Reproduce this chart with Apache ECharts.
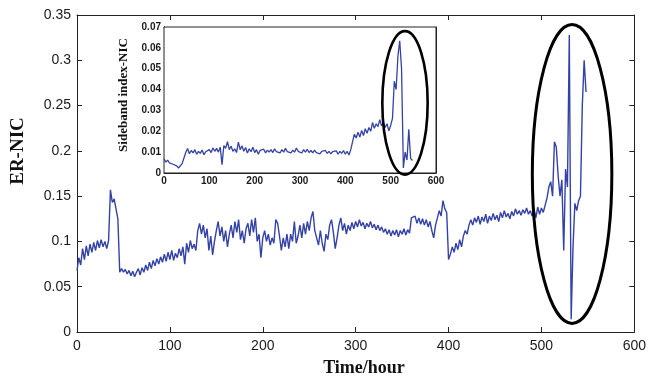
<!DOCTYPE html>
<html><head><meta charset="utf-8">
<script src="https://cdn.jsdelivr.net/npm/echarts@6/dist/echarts.min.js"></script>
<style>html,body{margin:0;padding:0;background:#fff}#c{width:649px;height:378px}</style>
</head><body><div id="c"></div>
<script>
// Main series: ER-NIC, sampled every 2 hours from hour 0
const mainStartHour = 0, mainStepHours = 2;
const mainValues = [
0.068,0.082,0.074,0.092,0.080,0.095,0.084,0.097,0.088,0.099,0.090,0.101,0.093,0.102,0.094,0.100,0.092,0.101,
0.157,0.143,0.147,0.136,0.125,0.066,
0.070,0.066,0.069,0.064,0.068,0.062,0.067,0.061,0.066,0.070,0.063,0.071,
0.066,0.074,0.068,0.077,0.070,0.079,0.073,0.081,0.075,0.083,0.077,0.086,0.078,0.088,0.080,0.090,0.079,0.087,0.082,0.092,0.084,0.094,0.075,0.098,0.088,0.101,0.092,0.097,0.090,
0.112,0.120,0.108,0.118,0.104,0.114,0.090,0.106,0.085,0.100,
0.112,0.122,0.106,0.116,0.100,0.112,0.094,0.108,0.118,0.104,0.122,0.110,0.124,0.102,0.112,0.098,0.114,0.120,0.106,0.124,0.110,0.126,0.100,0.108,0.082,0.104,
0.112,0.100,0.108,0.096,0.104,0.098,0.124,0.120,0.106,0.090,0.104,0.094,0.108,0.092,0.108,0.100,0.122,0.098,0.106,0.118,0.104,0.120,0.108,0.122,0.112,0.126,0.133,0.112,0.104,0.096,0.112,0.098,0.089,0.108,0.102,
0.118,0.124,0.110,0.092,0.104,0.118,0.126,0.112,0.120,0.108,0.118,0.112,0.121,0.114,0.122,0.116,0.124,0.117,0.121,0.114,0.120,0.116,0.122,0.115,0.119,0.113,0.118,0.112,0.116,0.110,0.114,0.108,0.113,0.106,0.112,0.107,0.113,0.105,0.112,0.108,0.114,0.107,0.113,0.109,0.126,
0.124,0.128,0.120,0.126,0.119,0.125,0.118,0.124,0.116,0.122,0.112,0.104,0.118,0.126,0.134,0.128,0.145,0.136,0.132,0.080,
0.086,0.094,0.088,0.098,0.091,0.102,0.094,0.106,0.112,0.108,0.118,0.124,
0.118,0.126,0.121,0.128,0.119,0.127,0.122,0.130,0.120,0.128,0.123,0.131,0.124,0.129,0.122,0.132,0.126,0.134,0.127,0.131,0.125,0.133,0.128,0.136,0.130,0.134,0.129,0.135,0.131,0.137,0.130,0.134,0.128,0.136,0.126,0.138,0.130,0.137,0.132,0.140,
0.148,0.160,0.166,0.150,0.210,0.204,0.172,0.150,0.168,0.090,0.180,0.160,0.328,0.014,0.094,0.142,0.134,0.145,0.150,0.250,0.300,0.265
];
// Inset series: Sideband index-NIC, sampled every 4 hours from hour 0
const insetStartHour = 0, insetStepHours = 4;
const insetValues = [
0.0068,0.0052,0.0062,0.0048,0.0056,0.0042,0.0050,0.0034,0.0024,0.0018,0.0045,0.0072,0.0098,
0.0118,0.0092,0.0108,0.0096,0.0112,0.0090,0.0104,0.0094,0.0110,0.0088,0.0102,0.0096,0.0112,0.0098,0.0120,0.0104,0.0118,0.0100,0.0124,
0.0040,0.0132,0.0118,0.0150,0.0112,0.0128,0.0104,0.0116,0.0098,0.0148,0.0112,0.0130,0.0104,0.0122,0.0096,0.0116,0.0102,0.0124,0.0098,
0.0112,0.0090,0.0108,0.0100,0.0114,0.0096,0.0110,0.0100,0.0112,0.0098,0.0116,0.0102,0.0108,0.0096,0.0112,0.0100,0.0118,0.0102,0.0106,0.0096,0.0110,0.0100,0.0120,0.0104,0.0110,
0.0096,0.0112,0.0100,0.0114,0.0098,0.0108,0.0096,0.0110,0.0098,0.0106,0.0092,0.0104,0.0096,0.0108,0.0094,0.0104,0.0092,0.0102,0.0094,0.0106,0.0090,0.0104,0.0094,0.0108,0.0090,0.0104,0.0086,0.0112,
0.0150,0.0186,0.0168,0.0196,0.0172,0.0204,0.0180,0.0212,0.0190,0.0218,0.0200,0.0242,0.0214,0.0236,0.0222,0.0256,0.0226,0.0242,0.0218,0.0236,0.0202,0.0228,0.0262,
0.0440,0.0400,0.0560,0.0634,0.0500,0.0024,0.0100,0.0062,0.0210,0.0070,0.0060
];
// Axis ticks
const mainXTicks = [0,100,200,300,400,500,600];
const mainYTicks = [0,0.05,0.1,0.15,0.2,0.25,0.3,0.35];
const insetXTicks = [0,100,200,300,400,500,600];
const insetYTicks = [0,0.01,0.02,0.03,0.04,0.05,0.06,0.07];
// Annotation ellipses in data units: [centerX, centerY, halfWidth, halfHeight]
const mainEllipse = [533, 0.1745, 42.8, 0.165];
const insetEllipse = [531.6, 0.0336, 50, 0.0344];

const mainData = mainValues.map((v,i)=>[mainStartHour + i*mainStepHours, v]);
const insetData = insetValues.map((v,i)=>[insetStartHour + i*insetStepHours, v]);

const lineColor = '#3342a6';
const axisCol = '#222';
function xAx(grid, ticks, pos, showLabel, fs, bold){
  return {type:'value', gridIndex:grid, position:pos, min:ticks[0], max:ticks[ticks.length-1],
    interval:ticks[1]-ticks[0],
    axisLine:{show:true, onZero:false, lineStyle:{color:axisCol, width:1}},
    axisTick:{show:true, inside:true, length:grid===0?5:4, lineStyle:{color:axisCol}},
    axisLabel:{show:showLabel, fontSize:fs, fontFamily:'Liberation Sans', fontWeight:bold?'bold':'normal', color:'#1a1a1a', margin:grid===0?7:3},
    splitLine:{show:false}};
}
function yAx(grid, ticks, pos, showLabel, fs, bold){
  return {type:'value', gridIndex:grid, position:pos, min:ticks[0], max:ticks[ticks.length-1],
    interval:Math.round((ticks[1]-ticks[0])*1e6)/1e6,
    axisLine:{show:true, onZero:false, lineStyle:{color:axisCol, width:1}},
    axisTick:{show:true, inside:true, length:grid===0?5:4, lineStyle:{color:axisCol}},
    axisLabel:{show:showLabel, fontSize:fs, fontFamily:'Liberation Sans', fontWeight:bold?'bold':'normal', color:'#1a1a1a', margin:grid===0?6:3},
    splitLine:{show:false}};
}

const option = {
  animation:false,
  backgroundColor:'#fff',
  grid:[
    {left:77, right:11, top:15, bottom:46, show:false},
    {left:164, top:27, width:272, height:146, show:true, backgroundColor:'#fff', borderColor:axisCol, borderWidth:1, z:3}
  ],
  xAxis:[
    xAx(0, mainXTicks, 'bottom', true, 14, false),
    xAx(0, mainXTicks, 'top', false, 14, false),
    xAx(1, insetXTicks, 'bottom', true, 10, true),
    xAx(1, insetXTicks, 'top', false, 10, true)
  ],
  yAxis:[
    yAx(0, mainYTicks, 'left', true, 14, false),
    yAx(0, mainYTicks, 'right', false, 14, false),
    yAx(1, insetYTicks, 'left', true, 10, true),
    yAx(1, insetYTicks, 'right', false, 10, true)
  ],
  series:[
    {type:'line', xAxisIndex:0, yAxisIndex:0, data:mainData, showSymbol:false, symbol:'none',
      lineStyle:{color:lineColor, width:1.4}, z:2},
    {type:'line', xAxisIndex:2, yAxisIndex:2, data:insetData, showSymbol:false, symbol:'none',
      lineStyle:{color:lineColor, width:1.3}, z:5}
  ]
};
const chart = echarts.init(document.getElementById('c'));
chart.setOption(option);

function ell(xi, yi, e){
  const p = chart.convertToPixel({xAxisIndex:xi, yAxisIndex:yi}, [e[0], e[1]]);
  const q = chart.convertToPixel({xAxisIndex:xi, yAxisIndex:yi}, [e[0]+e[2], e[1]+e[3]]);
  return {cx:p[0], cy:p[1], rx:Math.abs(q[0]-p[0]), ry:Math.abs(q[1]-p[1])};
}
chart.setOption({
  graphic:[
    {type:'ellipse', shape:ell(0,0,mainEllipse), style:{fill:null, stroke:'#000', lineWidth:3}, z:100},
    {type:'ellipse', shape:ell(2,2,insetEllipse), style:{fill:null, stroke:'#000', lineWidth:2.6}, z:100},
    {type:'text', x:18, y:151, rotation:Math.PI/2,
      style:{text:'ER-NIC', font:'bold 19px "Liberation Serif"', fill:'#111', align:'center', verticalAlign:'middle'}, z:100},
    {type:'text', x:364, y:368,
      style:{text:'Time/hour', font:'bold 18px "Liberation Serif"', fill:'#111', align:'center', verticalAlign:'middle'}, z:100},
    {type:'text', x:124, y:95, rotation:Math.PI/2,
      style:{text:'Sideband index-NIC', font:'bold 13px "Liberation Serif"', fill:'#111', align:'center', verticalAlign:'middle'}, z:100}
  ]
});
</script></body></html>
